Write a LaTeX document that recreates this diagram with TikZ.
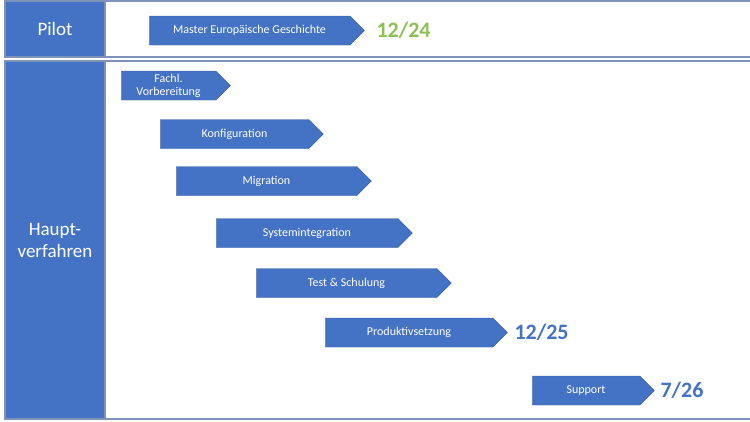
\documentclass[tikz,border=0pt]{standalone}
\usepackage{fontspec}
\setmainfont{Carlito}
\usetikzlibrary{shapes.symbols}
\definecolor{phaseblue}{HTML}{4472C4}
\definecolor{framegray}{HTML}{7F93B8}
\definecolor{pilotgreen}{HTML}{8CC152}
\tikzset{
  phase/.style={signal,signal to=east,fill=phaseblue,draw=phaseblue!80!black,text=white,
    minimum height=29pt,inner sep=0pt,font=\fontsize{12}{13}\selectfont,align=center},
  band/.style={fill=phaseblue,draw=framegray,line width=1.2pt,text=white,
    font=\fontsize{19}{22}\selectfont,align=center},
  date/.style={font=\bfseries\fontsize{22}{24}\selectfont,anchor=west}
}
\begin{document}
\begin{tikzpicture}[x=1pt,y=-1pt]
  \useasboundingbox (0,0) rectangle (750,421);

  % frames of the two bands
  \draw[framegray,line width=1.2pt] (105,1) rectangle (752,57);
  \draw[framegray,line width=1.2pt] (105,61) rectangle (752,419);
  \node[band,minimum width=100pt,minimum height=56pt] (pilot) at (55,29) {Pilot};
  \node[band,minimum width=100pt,minimum height=358pt] (haupt) at (55,240) {Haupt-\\verfahren};

  % phases
  \foreach \n/\xa/\xb/\y/\txt in {
      master/142/357/30.5/Master Europäische Geschichte,
      fachl/114/223/85.5/Fachl.\\Vorbereitung,
      konf/153/316/134/Konfiguration,
      migr/169/364/181/Migration,
      sysint/209/405/233/Systemintegration,
      test/249/444/283/Test \& Schulung,
      prod/318/500/332.5/Produktivsetzung,
      supp/525/647/390.5/Support} {%
    \node[phase,minimum width={(\xb-\xa)*1pt}] (\n) at ({(\xa+\xb)/2},\y) {\txt};
  }

  % dates
  \node[date,text=pilotgreen] (d1) at (373,30.5) {12/24};
  \node[date,text=phaseblue] (d2) at (511,332.5) {12/25};
  \node[date,text=phaseblue] (d3) at (657,390.5) {7/26};

\end{tikzpicture}
\end{document}
